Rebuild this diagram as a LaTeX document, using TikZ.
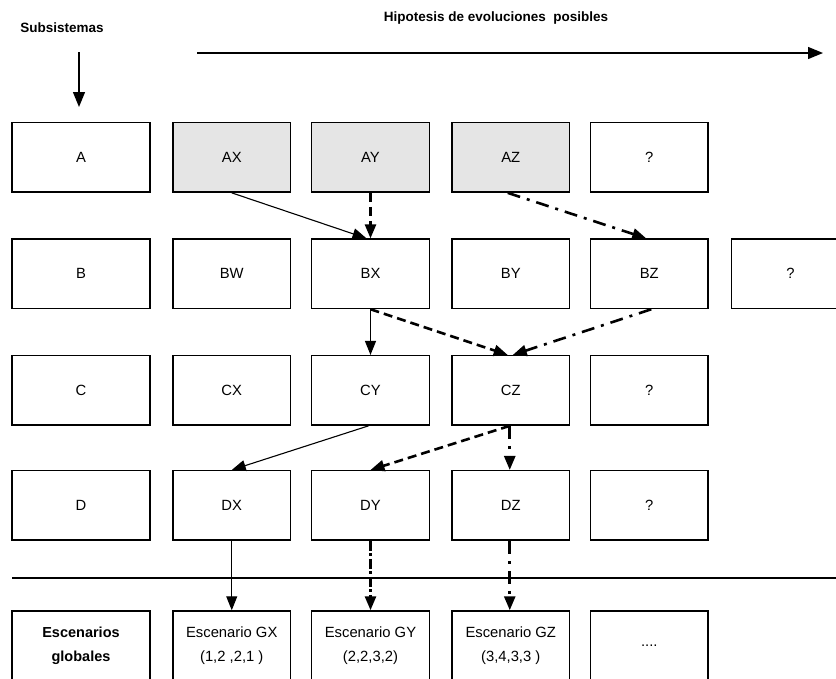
\documentclass[tikz,border=0pt]{standalone}
\usepackage{fontspec}
\setmainfont{Liberation Sans}
\usetikzlibrary{arrows.meta}
\definecolor{shade}{HTML}{E5E5E5}
\begin{document}
\begin{tikzpicture}[x=1pt,y=-1pt,
  box/.style={draw=black, line width=1.4pt, minimum height=69.5pt,
    minimum width=117.5pt, inner sep=0pt, align=center,
    font=\fontsize{14.8}{24}\selectfont},
  widebox/.style={box, minimum width=138pt},
  known/.style={box, fill=shade},
  head/.style={inner sep=0pt, font=\fontsize{13.5}{16}\selectfont\bfseries},
  tip/.style={-{Triangle[length=14pt,width=11pt]}},
  bigtip/.style={-{Triangle[length=15pt,width=12pt]}, line width=1.3pt},
  plain/.style={tip, line width=1.1pt},
  dashedlink/.style={tip, line width=2.6pt, dash pattern=on 9pt off 5pt},
  dotlink/.style={tip, line width=2.6pt, dash pattern=on 13pt off 7pt on 3pt off 7pt},
  mixlink/.style={tip, line width=2.6pt, dash pattern=on 10pt off 2.5pt on 3pt off 2.5pt},
]
\useasboundingbox (0,0) rectangle (836,678);
\clip (0,0) rectangle (836,678);

% headings and axis arrows
\node[head] (sub) at (62,28) {Subsistemas};
\node[head] (hyp) at (496,18) {Hipotesis de evoluciones\ \ posibles};
\coordinate (h0) at (197,53);
\coordinate (h1) at (823,53);
\coordinate (v0) at (79,52);
\coordinate (v1) at (79,107);
\draw[bigtip] (h0) -- (h1);
\draw[bigtip] (v0) -- (v1);

% row A
\node[widebox] (A)  at (81,157.4)     {A};
\node[known]   (AX) at (231.75,157.4) {AX};
\node[known]   (AY) at (370.5,157.4)  {AY};
\node[known]   (AZ) at (510.75,157.4) {AZ};
\node[box]     (Aq) at (649.25,157.4) {?};

% row B
\node[widebox] (B)  at (81,273.8)     {B};
\node[box]     (BW) at (231.75,273.8) {BW};
\node[box]     (BX) at (370.5,273.8)  {BX};
\node[box]     (BY) at (510.75,273.8) {BY};
\node[box]     (BZ) at (649.25,273.8) {BZ};
\node[box]     (Bq) at (790.5,273.8)  {?};

% row C
\node[widebox] (C)  at (81,390.4)     {C};
\node[box]     (CX) at (231.75,390.4) {CX};
\node[box]     (CY) at (370.5,390.4)  {CY};
\node[box]     (CZ) at (510.75,390.4) {CZ};
\node[box]     (Cq) at (649.25,390.4) {?};

% row D
\node[widebox] (D)  at (81,505.4)     {D};
\node[box]     (DX) at (231.75,505.4) {DX};
\node[box]     (DY) at (370.5,505.4)  {DY};
\node[box]     (DZ) at (510.75,505.4) {DZ};
\node[box]     (Dq) at (649.25,505.4) {?};

% separator
\coordinate (sepL) at (12,578);
\coordinate (sepR) at (840,578);
\draw[line width=1.4pt] (sepL) -- (sepR);

% global scenarios
\node[widebox, font=\fontsize{14.5}{24}\selectfont\bfseries] (G) at (81,645.7) {Escenarios\\globales};
\node[box] (GX) at (231.75,645.7) {Escenario GX\\(1,2 ,2,1 )};
\node[box] (GY) at (370.5,645.7)  {Escenario GY\\(2,2,3,2)};
\node[box] (GZ) at (510.75,645.7) {Escenario GZ\\(3,4,3,3 )};
\node[box] (Gm) at (649.25,645.7) {....};

% evolution links
\draw[plain] (AX.south) -- ([xshift=-4pt]BX.north);
\draw[dashedlink] (AY.south) -- (BX.north);
\draw[dotlink] ([xshift=-3pt]AZ.south) -- ([xshift=-3pt]BZ.north);
\draw[plain] (BX.south) -- (CY.north);
\draw[dashedlink] (BX.south) -- ([xshift=-3pt]CZ.north);
\draw[dotlink] ([xshift=2pt]BZ.south) -- ([xshift=2pt]CZ.north);
\draw[plain] ([xshift=-2pt]CY.south) -- (DX.north);
\draw[dashedlink] ([xshift=-1pt]CZ.south) -- (DY.north);
\draw[dotlink] ([xshift=-1pt]CZ.south) -- ([xshift=-1pt]DZ.north);
\draw[plain] (DX.south) -- (GX.north);
\draw[mixlink] (DY.south) -- (GY.north);
\draw[dotlink] ([xshift=-1pt]DZ.south) -- ([xshift=-1pt]GZ.north);
\end{tikzpicture}
\end{document}
